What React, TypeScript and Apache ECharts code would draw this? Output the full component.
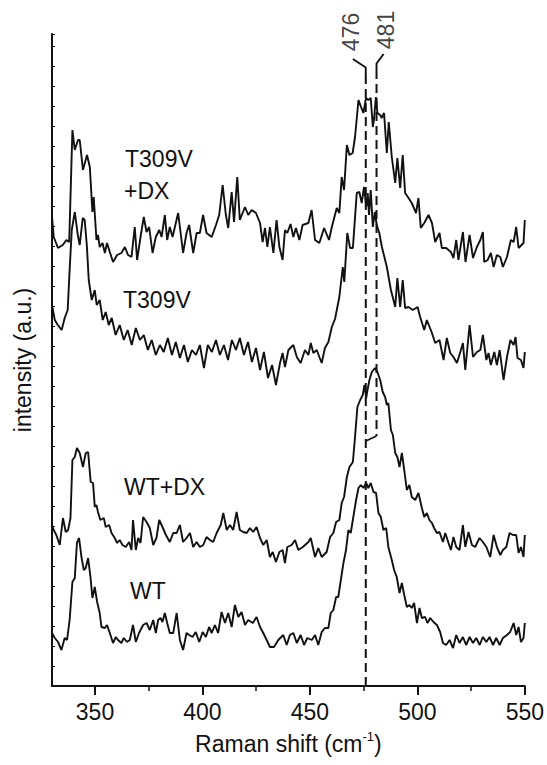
import React, { useEffect, useRef } from "react";
import * as echarts from "echarts";

const FONT = "'Liberation Sans', Arial, Helvetica, sans-serif";
const INK = "#111";

// x axis ticks (cm-1)
const majorTicks = [350, 400, 450, 500, 550];
const minorTicks = [375, 425, 475, 525];

// Spectrum: T309V + DX (top trace), intensity in arbitrary units (offset stacked)
const t309vDxX = [330.0,330.8,332.8,335.0,336.7,338.0,339.5,340.6,342.1,342.9,344.4,346.3,347.6,348.8,349.4,350.7,351.4,352.2,353.5,354.6,355.6,356.9,358.4,360.3,362.3,363.9,365.4,367.0,368.5,369.6,371.2,372.7,374.0,375.2,376.8,378.3,379.9,381.0,382.5,383.6,384.8,386.1,388.7,391.0,392.6,393.8,395.7,397.3,398.8,400.3,401.9,404.3,406.3,407.8,409.4,410.9,412.0,413.6,414.7,416.2,417.4,419.8,421.3,422.9,424.9,426.8,428.0,429.1,430.2,431.4,433.0,434.5,435.8,437.3,438.4,439.5,441.0,442.3,443.5,445.1,446.6,449.3,450.8,452.4,454.4,456.6,458.9,460.2,462.5,463.7,464.8,465.9,467.2,468.4,469.9,471.0,472.6,473.8,474.9,476.1,477.2,478.3,479.3,479.9,480.7,481.4,482.7,483.4,484.5,485.8,486.7,488.1,489.7,490.7,492.0,493.2,494.3,495.9,497.4,499.4,500.5,501.6,503.2,505.2,506.8,508.3,510.3,511.4,513.4,515.6,516.8,518.1,519.1,521.2,522.4,524.3,525.9,527.7,529.3,530.5,531.1,532.7,534.2,535.5,537.0,538.6,539.8,541.7,543.5,544.8,546.0,547.1,549.4,550.0];
const t309vDxY = [469,449,438,441,446,444,556,536,546,546,516,531,519,474,489,446,451,439,443,433,443,434,424,431,433,439,431,429,459,426,449,469,454,459,433,449,456,449,471,446,459,449,473,433,453,461,433,453,453,471,453,449,461,471,501,471,458,494,464,509,466,479,471,476,473,463,444,458,439,459,433,466,439,426,456,453,462,449,458,446,461,463,476,446,443,458,446,459,478,473,509,496,541,531,533,549,586,579,573,588,586,588,559,568,589,573,571,568,573,533,564,529,503,528,498,531,493,488,483,473,488,458,463,471,463,444,453,438,438,434,428,446,426,454,424,451,428,439,446,454,424,426,433,419,431,429,419,429,446,444,459,438,443,466];

// Spectrum: T309V
const t309vX = [330.0,331.3,332.7,334.5,335.9,337.3,338.2,339.2,340.6,342.0,342.9,344.3,345.2,346.2,347.1,348.5,349.9,350.8,352.2,353.6,355.0,356.4,357.8,359.6,361.5,363.4,365.2,367.1,369.0,370.9,372.7,374.6,376.4,378.3,380.2,382.0,383.9,385.8,387.6,389.5,391.4,393.2,395.1,397.0,398.8,400.7,402.5,404.4,406.3,408.1,410.0,411.9,413.7,415.6,417.4,419.3,421.2,423.0,424.9,426.8,428.6,430.5,432.4,434.2,436.1,437.3,438.4,440.0,442.3,443.9,445.7,447.7,449.3,450.4,451.6,453.2,454.4,455.5,457.0,458.6,460.2,461.7,463.7,465.3,466.0,467.4,468.7,470.0,471.8,473.0,474.1,475.2,476.2,476.9,477.5,478.3,479.3,480.2,481.1,482.3,483.5,485.0,485.8,487.7,489.7,490.7,492.0,493.2,494.3,495.9,497.9,500.1,501.3,503.2,504.4,506.8,508.3,510.3,512.2,513.7,515.3,516.8,518.4,520.0,521.2,522.3,524.3,525.9,527.7,529.3,530.5,532.1,533.1,534.2,535.8,537.0,538.3,540.1,541.7,543.3,544.8,545.7,546.6,548.2,549.4,550.0];
const t309vY = [381,366,361,356,368,376,416,456,474,451,441,468,466,441,406,386,396,381,386,366,374,361,368,351,361,346,356,341,358,346,351,336,346,331,341,334,348,331,344,328,341,324,336,331,341,318,341,334,346,331,341,326,346,336,348,331,344,324,338,316,334,308,321,301,323,333,319,336,341,329,323,336,331,343,333,336,329,323,338,344,359,367,389,419,404,453,438,438,493,494,483,499,479,493,471,496,459,474,461,453,439,426,419,396,379,408,379,406,378,379,376,379,369,356,366,353,343,346,326,348,333,329,323,334,343,316,361,329,334,336,351,326,333,321,334,321,336,306,329,346,341,349,328,326,318,334];

// Spectrum: WT + DX
const wtDxX = [330.0,330.8,332.0,333.6,335.1,336.4,337.5,338.6,339.5,340.6,341.6,342.9,344.4,345.7,346.8,348.0,349.1,349.9,350.7,351.4,352.5,354.1,355.0,356.6,357.7,359.2,360.3,361.5,362.8,364.3,365.9,367.0,367.7,369.0,370.1,371.2,372.4,374.0,375.5,377.1,378.6,379.9,381.4,383.0,384.8,386.4,388.0,389.5,391.0,392.6,394.2,395.7,397.3,398.8,400.4,401.9,403.5,405.0,406.6,408.5,409.7,411.3,412.8,414.3,415.9,417.4,419.0,420.6,422.1,423.6,425.2,426.8,428.3,429.9,431.4,432.7,434.2,435.8,437.3,438.4,439.5,441.5,443.1,444.6,446.7,449.3,450.4,452.4,453.9,455.5,457.8,459.4,460.9,462.2,463.7,464.8,465.9,467.2,468.4,470.0,471.0,472.1,473.4,474.6,475.4,476.2,476.8,477.7,478.8,480.3,481.4,482.7,483.9,485.0,485.8,486.5,487.7,488.6,489.7,490.7,491.7,492.8,493.9,495.1,496.3,497.4,499.0,500.5,502.1,503.2,504.4,505.6,506.8,507.8,509.1,510.3,511.9,513.0,514.5,515.6,516.8,518.1,519.6,521.2,522.3,523.8,525.4,526.9,528.9,530.5,532.1,533.9,535.5,537.0,538.6,539.8,541.4,542.9,544.5,546.0,547.1,548.2,549.4,550.0];
const wtDxY = [161,156,151,141,168,154,156,168,226,229,238,233,219,233,234,204,203,179,181,174,166,168,159,161,153,148,143,146,141,139,144,136,166,136,148,143,169,164,158,141,148,166,159,151,144,153,153,161,144,148,153,139,144,139,141,149,146,144,153,161,173,156,161,156,174,156,154,153,158,154,159,148,141,146,129,134,124,134,136,123,139,141,146,136,139,144,148,129,138,129,134,149,153,164,166,183,189,209,219,224,249,279,286,291,301,288,296,306,314,318,314,306,294,289,281,283,256,251,233,229,219,233,216,196,201,189,186,193,178,169,173,166,163,158,153,154,144,153,143,136,149,139,136,161,139,154,141,139,148,144,139,129,151,139,131,136,139,153,151,151,133,139,129,151];

// Spectrum: WT (bottom trace)
const wtX = [330.0,331.3,332.8,334.4,335.9,337.0,338.2,339.5,340.6,341.6,342.6,343.7,344.8,345.7,346.8,347.9,348.8,349.9,351.0,352.2,353.0,354.6,355.6,356.9,358.4,359.7,360.7,362.3,363.4,364.9,366.2,367.7,369.0,370.5,372.4,374.0,375.5,377.1,378.3,379.4,380.5,381.4,382.5,383.6,384.8,386.4,388.0,389.5,391.0,392.6,393.8,395.4,396.9,398.5,400.1,401.6,403.1,404.3,405.8,407.3,408.9,410.5,412.0,413.6,415.1,416.7,418.2,419.8,421.3,423.4,425.2,426.8,428.3,429.9,431.4,433.3,435.3,437.6,439.2,440.7,442.3,443.9,445.7,447.3,448.8,450.9,452.4,453.9,455.5,457.0,458.6,459.7,460.9,462.2,463.2,464.4,465.6,466.8,467.9,469.0,470.2,471.5,472.6,473.7,474.9,476.2,477.2,478.3,479.6,480.8,481.9,483.0,484.2,485.5,486.5,488.1,489.2,490.4,491.7,492.8,493.9,495.1,496.3,497.4,498.5,499.8,501.0,502.1,503.6,504.7,506.0,507.5,509.1,510.6,511.9,513.4,515.0,516.6,518.1,519.6,521.2,522.7,524.3,525.9,527.4,529.0,530.5,532.1,533.6,535.2,536.7,538.3,539.8,541.7,543.2,544.8,546.0,547.1,548.2,549.4,550.0];
const wtY = [53,48,44,36,48,46,66,104,108,143,148,129,116,118,128,109,88,99,84,73,59,58,61,53,43,49,46,43,48,44,46,61,44,53,61,63,56,66,53,66,68,64,73,63,53,53,73,46,36,53,51,49,54,44,54,49,59,53,61,53,74,63,73,59,81,69,74,61,66,63,69,59,53,46,39,39,46,51,41,51,53,43,51,41,48,46,51,41,54,58,58,73,76,89,89,106,123,136,156,153,169,186,198,201,198,203,198,203,194,193,173,169,156,158,139,126,116,109,93,103,91,79,81,78,83,63,78,68,69,63,68,64,61,54,43,41,46,38,51,43,49,41,49,43,48,41,49,44,49,41,48,41,48,51,54,63,51,59,44,48,63];

// Peak markers (cm-1) and their labels
const peakPositions = [476, 481];
const peakLabels = ["476", "481"];
// leader ticks above the dashed lines
const leader476 = [[470.0, 627], [476, 618.5], [476, 611]];
const leader481 = [[484.3, 632], [481, 622.5], [481, 616]];
const dash476 = [[476, 611], [476, 0]];
const dash481 = [[481, 616], [481, 250]];
const join481 = [[481, 250], [476, 245]];
const peakLabelPos = [[469.2, 654], [485.5, 656]];

// Trace names
const traceNames = ["T309V", "+DX", "T309V", "WT+DX", "WT"];

const zip = (xs: number[], ys: number[]) => xs.map((x, i) => [x, ys[i]]);

const lineSeries = (data: number[][], dashed = false, width = 1.9) => ({
  type: "line",
  data,
  showSymbol: false,
  symbol: "none",
  clip: false,
  silent: true,
  lineStyle: { color: INK, width, type: dashed ? [9, 5] : "solid" },
});

export default function App() {
  const ref = useRef<HTMLDivElement>(null);

  useEffect(() => {
    if (!ref.current) return;
    const chart = echarts.init(ref.current, undefined, { renderer: "svg" });
    const FS = 23;
    const textStyle = { fontFamily: FONT, fontSize: FS, fill: INK };
    chart.setOption({
      animation: false,
      backgroundColor: "#fff",
      grid: { left: 52, right: 22, top: 34, bottom: 79 },
      xAxis: [
        {
          type: "value",
          min: 330,
          max: 550,
          position: "bottom",
          axisLine: { onZero: false, lineStyle: { color: INK, width: 2 } },
          axisTick: { customValues: majorTicks, length: 9, lineStyle: { color: INK, width: 2 } },
          axisLabel: { customValues: majorTicks, fontSize: FS, color: INK, fontFamily: FONT, margin: 14 },
          splitLine: { show: false },
          name: "Raman shift (cm{sup|-1})",
          nameLocation: "middle",
          nameGap: 44,
          nameTextStyle: {
            fontSize: FS,
            color: INK,
            fontFamily: FONT,
            lineHeight: 28,
            rich: { sup: { fontSize: 13, fontFamily: FONT, color: INK, verticalAlign: "top", lineHeight: 16 } },
          },
        },
        {
          type: "value",
          min: 330,
          max: 550,
          position: "bottom",
          axisLine: { show: false, onZero: false },
          axisTick: { customValues: minorTicks, length: 5, lineStyle: { color: INK, width: 1.5 } },
          axisLabel: { show: false },
          splitLine: { show: false },
        },
      ],
      yAxis: {
        type: "value",
        min: 0,
        max: 652,
        interval: 20,
        axisLine: { show: true, onZero: false, lineStyle: { color: INK, width: 2 } },
        axisTick: { show: true, inside: true, length: 3, lineStyle: { color: INK, width: 1 } },
        axisLabel: { show: false },
        splitLine: { show: false },
        name: "intensity (a.u.)",
        nameLocation: "middle",
        nameGap: 18,
        nameTextStyle: { fontSize: FS, color: INK, fontFamily: FONT },
      },
      series: [
        lineSeries(zip(t309vDxX, t309vDxY)),
        lineSeries(zip(t309vX, t309vY)),
        lineSeries(zip(wtDxX, wtDxY)),
        lineSeries(zip(wtX, wtY)),
        lineSeries(leader476),
        lineSeries(leader481),
        lineSeries(dash476, true, 2),
        lineSeries(dash481, true, 2),
        lineSeries(join481),
        {
          type: "scatter",
          clip: false,
          silent: true,
          symbolSize: 1,
          itemStyle: { color: "rgba(0,0,0,0)" },
          data: peakLabelPos.map((p, i) => ({ value: p, name: peakLabels[i], peak: peakPositions[i] })),
          label: {
            show: true,
            position: "inside",
            rotate: 90,
            formatter: (p: any) => p.name,
            fontSize: FS,
            color: INK,
            fontFamily: FONT,
            align: "center",
            verticalAlign: "middle",
          },
        },
      ],
      graphic: [
        { type: "text", x: 125, y: 159, style: { ...textStyle, text: traceNames[0], textVerticalAlign: "middle" } },
        { type: "text", x: 124, y: 191, style: { ...textStyle, text: traceNames[1], textVerticalAlign: "middle" } },
        { type: "text", x: 123, y: 300, style: { ...textStyle, text: traceNames[2], textVerticalAlign: "middle" } },
        { type: "text", x: 124, y: 487, style: { ...textStyle, text: traceNames[3], textVerticalAlign: "middle" } },
        { type: "text", x: 130, y: 591, style: { ...textStyle, text: traceNames[4], textVerticalAlign: "middle" } },
      ],
    });
    return () => chart.dispose();
  }, []);

  return (
    <div
      ref={ref}
      style={{ position: "absolute", left: 0, top: 0, width: 547, height: 765, background: "#fff" }}
    />
  );
}
